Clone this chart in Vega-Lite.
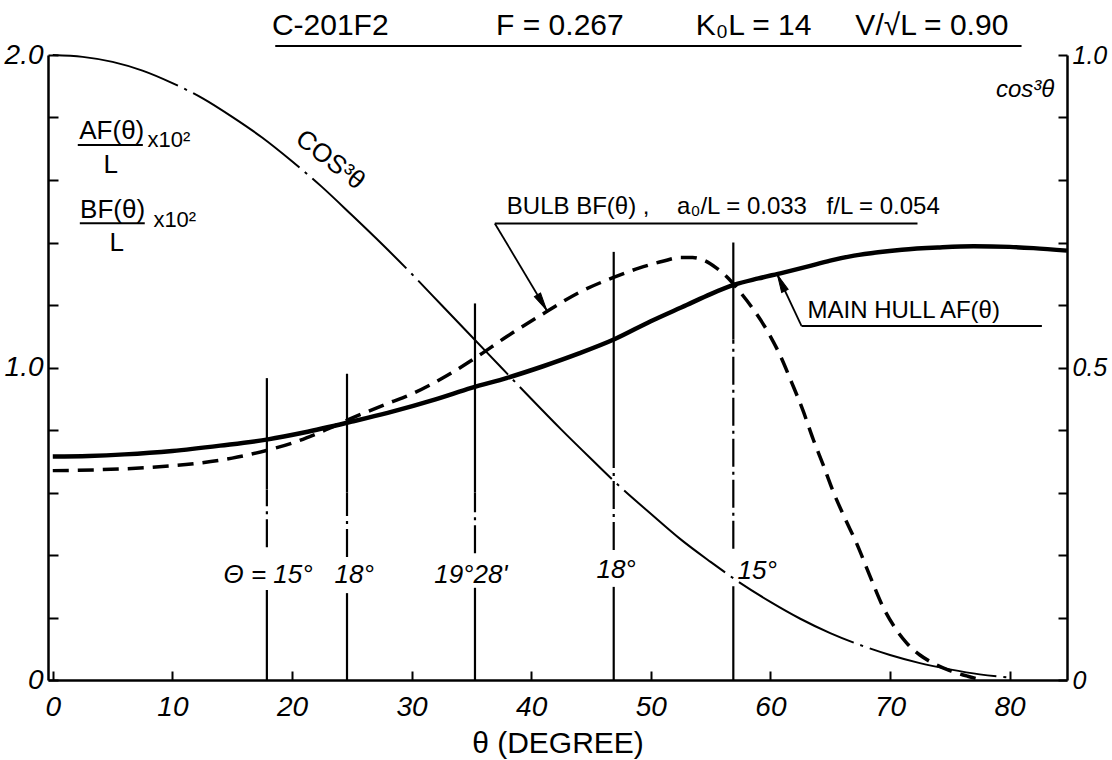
{
  "$schema": "https://vega.github.io/schema/vega-lite/v6.json",
  "width": 1019,
  "height": 625,
  "autosize": {"type": "none"},
  "padding": {"left": 48, "top": 55, "right": 45, "bottom": 80},
  "background": "white",
  "config": {
    "view": {"stroke": null},
    "font": "Liberation Sans",
    "text": {"color": "black", "font": "Liberation Sans"},
    "axis": {
      "grid": false,
      "domainColor": "black",
      "domainWidth": 2.5,
      "tickColor": "black",
      "tickWidth": 2,
      "labelColor": "black",
      "titleColor": "black",
      "labelFont": "Liberation Sans",
      "titleFont": "Liberation Sans",
      "labelFontStyle": "italic",
      "labelFontSize": 28,
      "titleFontWeight": "normal"
    }
  },
  "datasets": {
    "main": [
      {"theta": 0, "v": 0.715}, {"theta": 3, "v": 0.717}, {"theta": 6, "v": 0.722}, {"theta": 10, "v": 0.733},
      {"theta": 14, "v": 0.75}, {"theta": 18, "v": 0.77}, {"theta": 21, "v": 0.792}, {"theta": 25, "v": 0.827},
      {"theta": 28, "v": 0.855}, {"theta": 32, "v": 0.898}, {"theta": 35, "v": 0.935}, {"theta": 38, "v": 0.967},
      {"theta": 41, "v": 1.004}, {"theta": 44, "v": 1.045}, {"theta": 47, "v": 1.091}, {"theta": 50, "v": 1.148},
      {"theta": 53, "v": 1.2}, {"theta": 55, "v": 1.235}, {"theta": 57, "v": 1.265}, {"theta": 59, "v": 1.285},
      {"theta": 61, "v": 1.303}, {"theta": 63, "v": 1.322}, {"theta": 65, "v": 1.342}, {"theta": 67, "v": 1.358},
      {"theta": 69, "v": 1.369}, {"theta": 71, "v": 1.377}, {"theta": 74, "v": 1.384}, {"theta": 77, "v": 1.388},
      {"theta": 80, "v": 1.386}, {"theta": 82, "v": 1.382}, {"theta": 84.8, "v": 1.374}
    ],
    "bulb": [
      {"theta": 0, "v": 0.67}, {"theta": 4, "v": 0.673}, {"theta": 8, "v": 0.68}, {"theta": 12, "v": 0.693},
      {"theta": 15, "v": 0.71}, {"theta": 18, "v": 0.736}, {"theta": 20, "v": 0.758}, {"theta": 22, "v": 0.787},
      {"theta": 25, "v": 0.838}, {"theta": 28, "v": 0.885}, {"theta": 30, "v": 0.915}, {"theta": 33, "v": 0.975},
      {"theta": 35.3, "v": 1.03}, {"theta": 38, "v": 1.1}, {"theta": 41.3, "v": 1.179}, {"theta": 44, "v": 1.24},
      {"theta": 47, "v": 1.29}, {"theta": 49, "v": 1.318}, {"theta": 51, "v": 1.34}, {"theta": 52.5, "v": 1.352},
      {"theta": 53.5, "v": 1.352}, {"theta": 54.5, "v": 1.342}, {"theta": 55.5, "v": 1.318}, {"theta": 56.5, "v": 1.285},
      {"theta": 57.5, "v": 1.24}, {"theta": 58.5, "v": 1.19}, {"theta": 59.7, "v": 1.12}, {"theta": 60.8, "v": 1.04},
      {"theta": 61.8, "v": 0.95}, {"theta": 62.7, "v": 0.865}, {"theta": 63.6, "v": 0.768}, {"theta": 64.4, "v": 0.69},
      {"theta": 65.2, "v": 0.608}, {"theta": 66.2, "v": 0.52}, {"theta": 67.2, "v": 0.438}, {"theta": 68.3, "v": 0.335},
      {"theta": 69.4, "v": 0.235}, {"theta": 70.4, "v": 0.168}, {"theta": 71.4, "v": 0.118}, {"theta": 72.5, "v": 0.08},
      {"theta": 73.6, "v": 0.054}, {"theta": 75, "v": 0.03}, {"theta": 76.5, "v": 0.012}, {"theta": 77.3, "v": 0.004}
    ],
    "cos3": [
      {"theta": 0, "c": 1.0}, {"theta": 2.5, "c": 0.997}, {"theta": 5, "c": 0.989}, {"theta": 7.5, "c": 0.975},
      {"theta": 10, "c": 0.955}, {"theta": 12.5, "c": 0.931}, {"theta": 15, "c": 0.901}, {"theta": 17.5, "c": 0.868},
      {"theta": 20, "c": 0.83}, {"theta": 22.5, "c": 0.789}, {"theta": 25, "c": 0.744}, {"theta": 27.5, "c": 0.698},
      {"theta": 30, "c": 0.65}, {"theta": 32.5, "c": 0.6}, {"theta": 35, "c": 0.55}, {"theta": 37.5, "c": 0.5},
      {"theta": 40, "c": 0.45}, {"theta": 42.5, "c": 0.401}, {"theta": 45, "c": 0.354}, {"theta": 47.5, "c": 0.308},
      {"theta": 50, "c": 0.266}, {"theta": 52.5, "c": 0.225}, {"theta": 55, "c": 0.189}, {"theta": 57.5, "c": 0.155},
      {"theta": 60, "c": 0.125}, {"theta": 62.5, "c": 0.098}, {"theta": 65, "c": 0.075}, {"theta": 67.5, "c": 0.056},
      {"theta": 70, "c": 0.04}, {"theta": 72.5, "c": 0.027}, {"theta": 75, "c": 0.017}, {"theta": 77.5, "c": 0.009},
      {"theta": 80, "c": 0.004}
    ],
    "vsolid": [
      {"theta": 17.9, "y1": 0.61, "y2": 0.966}, {"theta": 17.9, "y1": 0, "y2": 0.288},
      {"theta": 24.6, "y1": 0.6, "y2": 0.98}, {"theta": 24.6, "y1": 0, "y2": 0.278},
      {"theta": 35.3, "y1": 0.6, "y2": 1.205}, {"theta": 35.3, "y1": 0, "y2": 0.295},
      {"theta": 46.9, "y1": 0.768, "y2": 1.37}, {"theta": 46.9, "y1": 0, "y2": 0.298},
      {"theta": 56.9, "y1": 1.09, "y2": 1.4}, {"theta": 56.9, "y1": 0, "y2": 0.3}
    ],
    "vdashdot": [
      {"theta": 17.9, "y1": 0.425, "y2": 0.61},
      {"theta": 24.6, "y1": 0.394, "y2": 0.6},
      {"theta": 35.3, "y1": 0.406, "y2": 0.6},
      {"theta": 46.9, "y1": 0.416, "y2": 0.768},
      {"theta": 56.9, "y1": 0.42, "y2": 1.09}
    ],
    "hlines": [
      {"theta": 18.6, "theta2": 81.0, "v": 2.029},
      {"theta": 2.09, "theta2": 7.53, "v": 1.712},
      {"theta": 2.26, "theta2": 7.69, "v": 1.462},
      {"theta": 36.96, "theta2": 72.3, "v": 1.461},
      {"theta": 62.6, "theta2": 82.7, "v": 1.133}
    ],
    "leaders": [
      {"theta": 36.96, "v": 1.461, "theta2": 41.28, "v2": 1.184},
      {"theta": 62.6, "v": 1.133, "theta2": 60.6, "v2": 1.296}
    ],
    "arrow1": [{"theta": 40.91, "v": 1.208}],
    "arrow2": [{"theta": 60.9, "v": 1.271}],
    "titles": [
      {"theta": 23.2, "v": 2.093, "label": "C-201F2"},
      {"theta": 42.4, "v": 2.093, "label": "F = 0.267"},
      {"theta": 58.6, "v": 2.093, "label": "K₀L = 14"},
      {"theta": 73.5, "v": 2.093, "label": "V/√L = 0.90"}
    ],
    "fractions": [
      {"theta": 4.93, "v": 1.757, "label": "AF(θ)"},
      {"theta": 4.85, "v": 1.648, "label": "L"},
      {"theta": 5.0, "v": 1.504, "label": "BF(θ)"},
      {"theta": 5.35, "v": 1.398, "label": "L"}
    ],
    "powers": [
      {"theta": 9.7, "v": 1.728, "label": "x10²"},
      {"theta": 10.2, "v": 1.472, "label": "x10²"}
    ],
    "notes": [
      {"theta": 37.96, "v": 1.514, "label": "BULB  BF(θ) ,"},
      {"theta": 52.2, "v": 1.514, "label": "a₀/L = 0.033"},
      {"theta": 64.7, "v": 1.514, "label": "f/L = 0.054"},
      {"theta": 63.1, "v": 1.181, "label": "MAIN  HULL  AF(θ)"}
    ],
    "angles": [
      {"theta": 18.0, "v": 0.336, "label": "Θ = 15°"},
      {"theta": 25.2, "v": 0.336, "label": "18°"},
      {"theta": 34.95, "v": 0.336, "label": "19°28'"},
      {"theta": 47.1, "v": 0.352, "label": "18°"},
      {"theta": 58.9, "v": 0.349, "label": "15°"}
    ],
    "coslabel": [{"theta": 23.2, "v": 1.664, "label": "COS³θ"}],
    "cosaxis": [{"theta": 81.3, "v": 1.888, "label": "cos³θ"}]
  },
  "layer": [
    {
      "layer": [
        {
          "data": {"name": "main"},
          "mark": {"type": "line", "color": "black", "strokeWidth": 4.5, "interpolate": "monotone"},
          "encoding": {
            "x": {"field": "theta", "type": "quantitative", "scale": {"domain": [-0.4, 84.8], "nice": false, "zero": false},
              "title": "θ (DEGREE)",
              "axis": {"values": [0, 10, 20, 30, 40, 50, 60, 70, 80], "tickSize": -9, "labelPadding": 22, "titleFontSize": 30, "titlePadding": 7}},
            "y": {"field": "v", "type": "quantitative", "scale": {"domain": [0, 2], "nice": false, "zero": false},
              "title": null,
              "axis": {"orient": "left", "values": [0, 0.2, 0.4, 0.6, 0.8, 1, 1.2, 1.4, 1.6, 1.8, 2], "tickSize": -10, "labelPadding": 15,
                "labelExpr": "datum.value == 0 ? '0' : datum.value == 1 ? '1.0' : datum.value == 2 ? '2.0' : ''"}}
          }
        },
        {
          "data": {"name": "bulb"},
          "mark": {"type": "line", "color": "black", "strokeWidth": 3.5, "strokeDash": [16, 9], "interpolate": "monotone"},
          "encoding": {
            "x": {"field": "theta", "type": "quantitative", "scale": {"domain": [-0.4, 84.8], "nice": false, "zero": false}, "title": "θ (DEGREE)"},
            "y": {"field": "v", "type": "quantitative", "scale": {"domain": [0, 2], "nice": false, "zero": false}, "title": null}
          }
        },
        {
          "data": {"name": "vsolid"},
          "mark": {"type": "rule", "color": "black", "strokeWidth": 2.2},
          "encoding": {
            "x": {"field": "theta", "type": "quantitative", "scale": {"domain": [-0.4, 84.8], "nice": false, "zero": false}, "title": "θ (DEGREE)"},
            "y": {"field": "y1", "type": "quantitative", "scale": {"domain": [0, 2], "nice": false, "zero": false}, "title": null},
            "y2": {"field": "y2"}
          }
        },
        {
          "data": {"name": "vdashdot"},
          "mark": {"type": "rule", "color": "black", "strokeWidth": 2.2, "strokeDash": [28, 5, 3, 5]},
          "encoding": {
            "x": {"field": "theta", "type": "quantitative", "scale": {"domain": [-0.4, 84.8], "nice": false, "zero": false}, "title": "θ (DEGREE)"},
            "y": {"field": "y1", "type": "quantitative", "scale": {"domain": [0, 2], "nice": false, "zero": false}, "title": null},
            "y2": {"field": "y2"}
          }
        },
        {
          "data": {"name": "hlines"},
          "mark": {"type": "rule", "color": "black", "strokeWidth": 2},
          "encoding": {
            "x": {"field": "theta", "type": "quantitative", "scale": {"domain": [-0.4, 84.8], "nice": false, "zero": false}, "title": "θ (DEGREE)"},
            "x2": {"field": "theta2"},
            "y": {"field": "v", "type": "quantitative", "scale": {"domain": [0, 2], "nice": false, "zero": false}, "title": null}
          }
        },
        {
          "data": {"name": "leaders"},
          "mark": {"type": "rule", "color": "black", "strokeWidth": 1.8},
          "encoding": {
            "x": {"field": "theta", "type": "quantitative", "scale": {"domain": [-0.4, 84.8], "nice": false, "zero": false}, "title": "θ (DEGREE)"},
            "x2": {"field": "theta2"},
            "y": {"field": "v", "type": "quantitative", "scale": {"domain": [0, 2], "nice": false, "zero": false}, "title": null},
            "y2": {"field": "v2"}
          }
        },
        {
          "data": {"name": "arrow1"},
          "mark": {"type": "point", "shape": "M0,-1L0.4,1L-0.4,1Z", "filled": true, "size": 320, "angle": 149, "fill": "black", "stroke": "black", "strokeWidth": 1, "opacity": 1, "fillOpacity": 1},
          "encoding": {
            "x": {"field": "theta", "type": "quantitative", "scale": {"domain": [-0.4, 84.8], "nice": false, "zero": false}, "title": "θ (DEGREE)"},
            "y": {"field": "v", "type": "quantitative", "scale": {"domain": [0, 2], "nice": false, "zero": false}, "title": null}
          }
        },
        {
          "data": {"name": "arrow2"},
          "mark": {"type": "point", "shape": "M0,-1L0.4,1L-0.4,1Z", "filled": true, "size": 320, "angle": 335, "fill": "black", "stroke": "black", "strokeWidth": 1, "opacity": 1, "fillOpacity": 1},
          "encoding": {
            "x": {"field": "theta", "type": "quantitative", "scale": {"domain": [-0.4, 84.8], "nice": false, "zero": false}, "title": "θ (DEGREE)"},
            "y": {"field": "v", "type": "quantitative", "scale": {"domain": [0, 2], "nice": false, "zero": false}, "title": null}
          }
        },
        {
          "data": {"name": "titles"},
          "mark": {"type": "text", "fontSize": 30, "align": "center", "baseline": "middle"},
          "encoding": {
            "x": {"field": "theta", "type": "quantitative", "scale": {"domain": [-0.4, 84.8], "nice": false, "zero": false}, "title": "θ (DEGREE)"},
            "y": {"field": "v", "type": "quantitative", "scale": {"domain": [0, 2], "nice": false, "zero": false}, "title": null},
            "text": {"field": "label"}
          }
        },
        {
          "data": {"name": "fractions"},
          "mark": {"type": "text", "fontSize": 26, "align": "center", "baseline": "middle"},
          "encoding": {
            "x": {"field": "theta", "type": "quantitative", "scale": {"domain": [-0.4, 84.8], "nice": false, "zero": false}, "title": "θ (DEGREE)"},
            "y": {"field": "v", "type": "quantitative", "scale": {"domain": [0, 2], "nice": false, "zero": false}, "title": null},
            "text": {"field": "label"}
          }
        },
        {
          "data": {"name": "powers"},
          "mark": {"type": "text", "fontSize": 22, "align": "center", "baseline": "middle"},
          "encoding": {
            "x": {"field": "theta", "type": "quantitative", "scale": {"domain": [-0.4, 84.8], "nice": false, "zero": false}, "title": "θ (DEGREE)"},
            "y": {"field": "v", "type": "quantitative", "scale": {"domain": [0, 2], "nice": false, "zero": false}, "title": null},
            "text": {"field": "label"}
          }
        },
        {
          "data": {"name": "notes"},
          "mark": {"type": "text", "fontSize": 24, "align": "left", "baseline": "middle"},
          "encoding": {
            "x": {"field": "theta", "type": "quantitative", "scale": {"domain": [-0.4, 84.8], "nice": false, "zero": false}, "title": "θ (DEGREE)"},
            "y": {"field": "v", "type": "quantitative", "scale": {"domain": [0, 2], "nice": false, "zero": false}, "title": null},
            "text": {"field": "label"}
          }
        },
        {
          "data": {"name": "angles"},
          "mark": {"type": "text", "fontSize": 26, "fontStyle": "italic", "align": "center", "baseline": "middle"},
          "encoding": {
            "x": {"field": "theta", "type": "quantitative", "scale": {"domain": [-0.4, 84.8], "nice": false, "zero": false}, "title": "θ (DEGREE)"},
            "y": {"field": "v", "type": "quantitative", "scale": {"domain": [0, 2], "nice": false, "zero": false}, "title": null},
            "text": {"field": "label"}
          }
        },
        {
          "data": {"name": "coslabel"},
          "mark": {"type": "text", "fontSize": 26, "angle": 38, "align": "center", "baseline": "middle"},
          "encoding": {
            "x": {"field": "theta", "type": "quantitative", "scale": {"domain": [-0.4, 84.8], "nice": false, "zero": false}, "title": "θ (DEGREE)"},
            "y": {"field": "v", "type": "quantitative", "scale": {"domain": [0, 2], "nice": false, "zero": false}, "title": null},
            "text": {"field": "label"}
          }
        },
        {
          "data": {"name": "cosaxis"},
          "mark": {"type": "text", "fontSize": 24, "fontStyle": "italic", "align": "center", "baseline": "middle"},
          "encoding": {
            "x": {"field": "theta", "type": "quantitative", "scale": {"domain": [-0.4, 84.8], "nice": false, "zero": false}, "title": "θ (DEGREE)"},
            "y": {"field": "v", "type": "quantitative", "scale": {"domain": [0, 2], "nice": false, "zero": false}, "title": null},
            "text": {"field": "label"}
          }
        }
      ]
    },
    {
      "data": {"name": "cos3"},
      "mark": {"type": "line", "color": "black", "strokeWidth": 2, "strokeDash": [130, 7, 3, 7], "interpolate": "monotone"},
      "encoding": {
        "x": {"field": "theta", "type": "quantitative", "scale": {"domain": [-0.4, 84.8], "nice": false, "zero": false}, "title": "θ (DEGREE)"},
        "y": {"field": "c", "type": "quantitative", "scale": {"domain": [0, 1], "nice": false, "zero": false},
          "title": null,
          "axis": {"orient": "right", "values": [0, 0.1, 0.2, 0.3, 0.4, 0.5, 0.6, 0.7, 0.8, 0.9, 1], "tickSize": -9, "labelPadding": 14, "labelFontSize": 25,
            "labelExpr": "datum.value == 0 ? '0' : datum.value == 0.5 ? '0.5' : datum.value == 1 ? '1.0' : ''"}}
      }
    }
  ],
  "resolve": {"scale": {"y": "independent"}}
}
